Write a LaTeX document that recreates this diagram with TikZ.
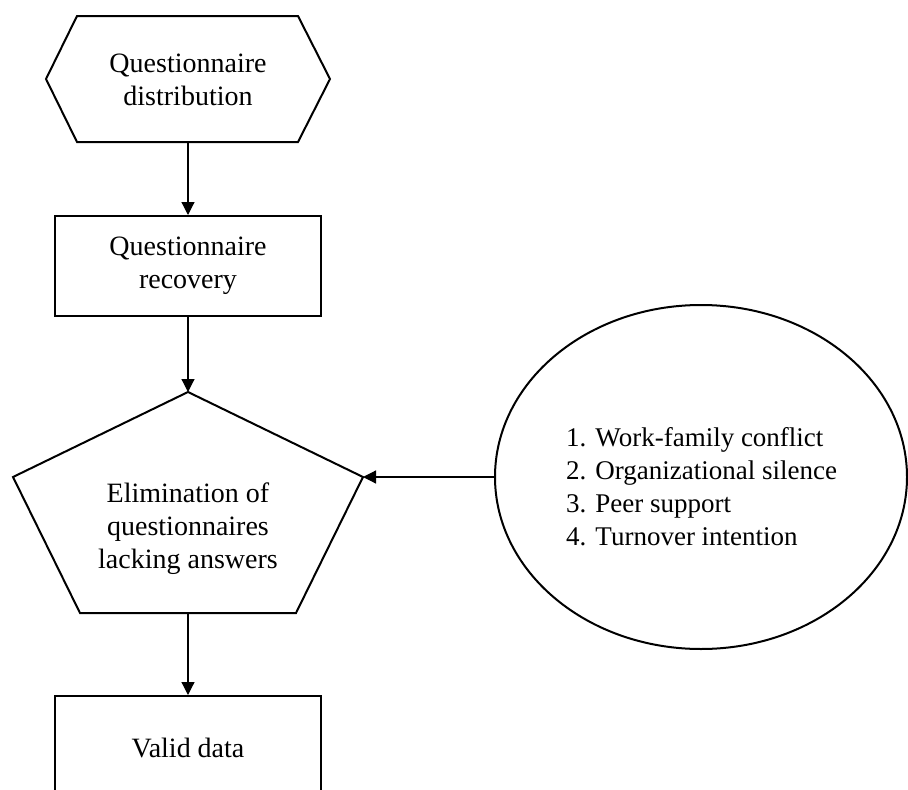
\documentclass[tikz,border=0pt]{standalone}
\usepackage{fontspec}
\setmainfont{Liberation Serif}
\usetikzlibrary{arrows.meta,shapes.geometric}
\begin{document}
\begin{tikzpicture}[x=1pt,y=-1pt,
  outline/.style={line width=2pt, line join=miter},
  boxshape/.style={outline, draw, rectangle, minimum width=266pt, align=center,
    font=\fontsize{28}{33}\selectfont, inner sep=0pt},
  flow/.style={line width=1.2pt, -{Triangle[length=13pt,width=13pt]}},
  txt/.style={font=\fontsize{28}{33}\selectfont, align=center, inner sep=0pt},
  listtxt/.style={font=\fontsize{27}{33}\selectfont, align=left, inner sep=0pt},
]
\useasboundingbox (0,0) rectangle (908,790);
\clip (0,0) rectangle (908,790);

% start: hexagon
\draw[outline] (46,79) -- (77,16) -- (298,16) -- (330,79) -- (298,142) -- (77,142) -- cycle;
\coordinate (hexBottom) at (188,142);
\node[txt] (distribution) at (188,80) {Questionnaire\\distribution};

% recovery step
\node[boxshape, minimum height=100pt] (recovery) at (188,266) {Questionnaire\\recovery};

% elimination step: pentagon
\coordinate (penTop) at (188,392);
\coordinate (penRight) at (363,477);
\coordinate (penBottom) at (188,613);
\draw[outline] (penTop) -- (penRight) -- (296,613) -- (80,613) -- (13,477) -- cycle;
\node[txt] (elimination) at (188,529) {Elimination of\\questionnaires\\lacking answers};

% final result (runs past the lower edge)
\node[boxshape, minimum height=104pt] (valid) at (188,748) {Valid data};

% variables
\node[outline, draw, ellipse, minimum width=412pt, minimum height=344pt, inner sep=0pt]
  (vars) at (701,477) {};
\node[listtxt, anchor=west] (varlist) at (566,487)
  {1. Work-family conflict\\2. Organizational silence\\3. Peer support\\4. Turnover intention};

% connectors
\draw[flow] (hexBottom) -- (recovery.north);
\draw[flow] (recovery.south) -- (penTop);
\draw[flow] (penBottom) -- (valid.north);
\draw[flow] (vars.west) -- (penRight);
\end{tikzpicture}
\end{document}
